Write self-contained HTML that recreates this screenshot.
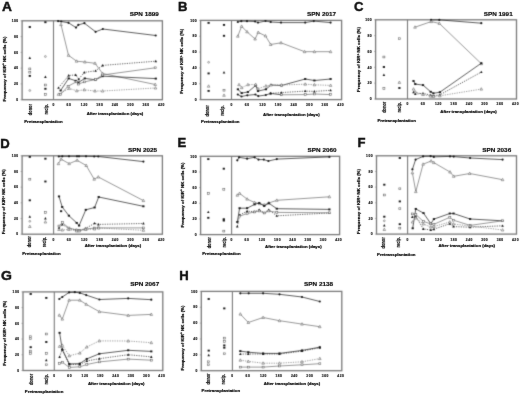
<!DOCTYPE html>
<html><head><meta charset="utf-8"><style>
html,body{margin:0;padding:0;background:#fff;}
svg{display:block;}
text{font-family:"Liberation Sans", sans-serif;fill:#111;}
.L{font-size:13.1px;font-weight:bold;stroke:#000;stroke-width:0.4px;}
.T{font-size:6.1px;font-weight:bold;stroke:#000;stroke-width:0.15px;fill:#000;}
.tk{font-size:3.3px;font-weight:bold;fill:#111;stroke:#111;stroke-width:0.15px;letter-spacing:0.5px;}
.dr{font-size:4.9px;font-weight:bold;fill:#111;stroke:#111;stroke-width:0.2px;}
.ax{font-size:4.4px;font-weight:bold;fill:#000;stroke:#000;stroke-width:0.22px;}
.yl{font-size:4.4px;font-weight:bold;fill:#000;stroke:#000;stroke-width:0.2px;}
</style></head><body>
<svg width="520" height="394" viewBox="0 0 520 394">
<defs><filter id="bl" filterUnits="userSpaceOnUse" x="-10" y="-10" width="540" height="414" color-interpolation-filters="sRGB"><feColorMatrix type="saturate" values="0"/><feConvolveMatrix order="3" kernelMatrix="0.01917 0.10012 0.01917 0.10012 0.52283 0.10012 0.01917 0.10012 0.01917" divisor="1" edgeMode="none" preserveAlpha="true"/></filter><filter id="tx" filterUnits="userSpaceOnUse" x="-10" y="-10" width="540" height="414" color-interpolation-filters="sRGB"><feColorMatrix type="saturate" values="0"/><feConvolveMatrix order="3" kernelMatrix="0.00163 0.03713 0.00163 0.03713 0.84497 0.03713 0.00163 0.03713 0.00163" divisor="1" edgeMode="none" preserveAlpha="false"/></filter></defs>
<g filter="url(#bl)">
<rect x="-10" y="-10" width="540" height="414" fill="#fff"/>
<g><rect x="22.1" y="20.8" width="140.3" height="78.9" fill="none" stroke="#7a7a7a" stroke-width="1.3"/><line x1="53.5" y1="20.8" x2="53.5" y2="99.7" stroke="#7a7a7a" stroke-width="1.1"/><line x1="20.5" y1="99.7" x2="22.1" y2="99.7" stroke="#7a7a7a" stroke-width="0.5"/><line x1="20.5" y1="83.92" x2="22.1" y2="83.92" stroke="#7a7a7a" stroke-width="0.5"/><line x1="20.5" y1="68.14" x2="22.1" y2="68.14" stroke="#7a7a7a" stroke-width="0.5"/><line x1="20.5" y1="52.36" x2="22.1" y2="52.36" stroke="#7a7a7a" stroke-width="0.5"/><line x1="20.5" y1="36.58" x2="22.1" y2="36.58" stroke="#7a7a7a" stroke-width="0.5"/><line x1="20.5" y1="20.8" x2="22.1" y2="20.8" stroke="#7a7a7a" stroke-width="0.5"/><polyline points="58.1,21.1 61.2,21.5 68.5,22.8 76,27.6 78.3,24.9 84.4,23.2 95.6,31.8 102.8,29 155.7,35.5" fill="none" stroke="#1a1a1a" stroke-width="0.7"/><circle cx="58.1" cy="21.1" r="1.1" fill="#1a1a1a"/><circle cx="61.2" cy="21.5" r="1.1" fill="#1a1a1a"/><circle cx="68.5" cy="22.8" r="1.1" fill="#1a1a1a"/><circle cx="76" cy="27.6" r="1.1" fill="#1a1a1a"/><circle cx="78.3" cy="24.9" r="1.1" fill="#1a1a1a"/><circle cx="84.4" cy="23.2" r="1.1" fill="#1a1a1a"/><circle cx="95.6" cy="31.8" r="1.1" fill="#1a1a1a"/><circle cx="102.8" cy="29" r="1.1" fill="#1a1a1a"/><circle cx="155.7" cy="35.5" r="1.1" fill="#1a1a1a"/><polyline points="61,24.6 68.5,55.3 76.6,61.2 84.9,62 95,63.3 102.6,73.5 155.2,84.5" fill="none" stroke="#777777" stroke-width="0.75"/><polygon points="61,23.2 59.7,25.6 62.3,25.6" fill="#fff" stroke="#5a5a5a" stroke-width="0.55"/><polygon points="68.5,53.9 67.2,56.3 69.8,56.3" fill="#fff" stroke="#5a5a5a" stroke-width="0.55"/><polygon points="76.6,59.8 75.3,62.2 77.9,62.2" fill="#fff" stroke="#5a5a5a" stroke-width="0.55"/><polygon points="84.9,60.6 83.6,63 86.2,63" fill="#fff" stroke="#5a5a5a" stroke-width="0.55"/><polygon points="95,61.9 93.7,64.3 96.3,64.3" fill="#fff" stroke="#5a5a5a" stroke-width="0.55"/><polygon points="102.6,72.1 101.3,74.5 103.9,74.5" fill="#fff" stroke="#5a5a5a" stroke-width="0.55"/><polygon points="155.2,83.1 153.9,85.5 156.5,85.5" fill="#fff" stroke="#5a5a5a" stroke-width="0.55"/><polyline points="58.5,87.8 68.7,75.5 75.7,74.9 78.7,79.2 84.3,72.4 95.6,70.8 102.6,65.4 155.8,61.2" fill="none" stroke="#1a1a1a" stroke-width="0.7" stroke-dasharray="1.2,1.2"/><polygon points="58.5,86.4 57.2,88.8 59.8,88.8" fill="#1a1a1a"/><polygon points="68.7,74.1 67.4,76.5 70,76.5" fill="#1a1a1a"/><polygon points="75.7,73.5 74.4,75.9 77,75.9" fill="#1a1a1a"/><polygon points="78.7,77.8 77.4,80.2 80,80.2" fill="#1a1a1a"/><polygon points="84.3,71 83,73.4 85.6,73.4" fill="#1a1a1a"/><polygon points="95.6,69.4 94.3,71.8 96.9,71.8" fill="#1a1a1a"/><polygon points="102.6,64 101.3,66.4 103.9,66.4" fill="#1a1a1a"/><polygon points="155.8,59.8 154.5,62.2 157.1,62.2" fill="#1a1a1a"/><polyline points="60.6,90.5 68.7,78.4 75.7,80.8 78.4,82.5 84.8,78.4 95.6,79.8 102.6,76.2 155.8,78.6" fill="none" stroke="#1a1a1a" stroke-width="0.7"/><rect x="59.5" y="89.56" width="2.2" height="1.87" fill="#1a1a1a"/><rect x="67.6" y="77.47" width="2.2" height="1.87" fill="#1a1a1a"/><rect x="74.6" y="79.86" width="2.2" height="1.87" fill="#1a1a1a"/><rect x="77.3" y="81.56" width="2.2" height="1.87" fill="#1a1a1a"/><rect x="83.7" y="77.47" width="2.2" height="1.87" fill="#1a1a1a"/><rect x="94.5" y="78.86" width="2.2" height="1.87" fill="#1a1a1a"/><rect x="101.5" y="75.27" width="2.2" height="1.87" fill="#1a1a1a"/><rect x="154.7" y="77.66" width="2.2" height="1.87" fill="#1a1a1a"/><polyline points="60.6,94.3 68.1,86.2 76.2,81.9 78.4,84.1 84.3,81.9 95.6,79.5 102.6,75 155.2,67.8" fill="none" stroke="#777777" stroke-width="0.75"/><rect x="59.6" y="93.4" width="2" height="1.8" fill="#fff" stroke="#5a5a5a" stroke-width="0.55"/><rect x="67.1" y="85.3" width="2" height="1.8" fill="#fff" stroke="#5a5a5a" stroke-width="0.55"/><rect x="75.2" y="81" width="2" height="1.8" fill="#fff" stroke="#5a5a5a" stroke-width="0.55"/><rect x="77.4" y="83.2" width="2" height="1.8" fill="#fff" stroke="#5a5a5a" stroke-width="0.55"/><rect x="83.3" y="81" width="2" height="1.8" fill="#fff" stroke="#5a5a5a" stroke-width="0.55"/><rect x="94.6" y="78.6" width="2" height="1.8" fill="#fff" stroke="#5a5a5a" stroke-width="0.55"/><rect x="101.6" y="74.1" width="2" height="1.8" fill="#fff" stroke="#5a5a5a" stroke-width="0.55"/><rect x="154.2" y="66.9" width="2" height="1.8" fill="#fff" stroke="#5a5a5a" stroke-width="0.55"/><polyline points="58.5,94.3 69.2,88.4 76.8,90.8 84.3,89.8 95,91 102.6,91 155.5,88" fill="none" stroke="#777777" stroke-width="0.75" stroke-dasharray="1.2,1.2"/><polygon points="58.5,92.9 57.2,95.3 59.8,95.3" fill="#fff" stroke="#5a5a5a" stroke-width="0.55"/><polygon points="69.2,87 67.9,89.4 70.5,89.4" fill="#fff" stroke="#5a5a5a" stroke-width="0.55"/><polygon points="76.8,89.4 75.5,91.8 78.1,91.8" fill="#fff" stroke="#5a5a5a" stroke-width="0.55"/><polygon points="84.3,88.4 83,90.8 85.6,90.8" fill="#fff" stroke="#5a5a5a" stroke-width="0.55"/><polygon points="95,89.6 93.7,92 96.3,92" fill="#fff" stroke="#5a5a5a" stroke-width="0.55"/><polygon points="102.6,89.6 101.3,92 103.9,92" fill="#fff" stroke="#5a5a5a" stroke-width="0.55"/><polygon points="155.5,86.6 154.2,89 156.8,89" fill="#fff" stroke="#5a5a5a" stroke-width="0.55"/><rect x="28.7" y="26.07" width="2.2" height="1.87" fill="#1a1a1a"/><polygon points="29.8,56.6 28.5,59 31.1,59" fill="#1a1a1a"/><rect x="28.8" y="68" width="2" height="1.8" fill="#fff" stroke="#5a5a5a" stroke-width="0.55"/><rect x="28.8" y="71.3" width="2" height="1.8" fill="#fff" stroke="#5a5a5a" stroke-width="0.55"/><rect x="28.7" y="74.97" width="2.2" height="1.87" fill="#1a1a1a"/><circle cx="29.8" cy="90.5" r="0.9" fill="#fff" stroke="#5a5a5a" stroke-width="0.55"/><rect x="44.3" y="21.27" width="2.2" height="1.87" fill="#1a1a1a"/><circle cx="45.4" cy="56.5" r="0.9" fill="#fff" stroke="#5a5a5a" stroke-width="0.55"/><polygon points="45.4,75.6 44.1,78 46.7,78" fill="#1a1a1a"/><rect x="44.4" y="84.1" width="2" height="1.8" fill="#fff" stroke="#5a5a5a" stroke-width="0.55"/><rect x="44.3" y="87.86" width="2.2" height="1.87" fill="#1a1a1a"/><rect x="44.4" y="93.6" width="2" height="1.8" fill="#fff" stroke="#5a5a5a" stroke-width="0.55"/></g>
<g><rect x="200.6" y="20.4" width="141" height="79.2" fill="none" stroke="#7a7a7a" stroke-width="1.3"/><line x1="231.5" y1="20.4" x2="231.5" y2="99.6" stroke="#7a7a7a" stroke-width="1.1"/><line x1="199" y1="99.6" x2="200.6" y2="99.6" stroke="#7a7a7a" stroke-width="0.5"/><line x1="199" y1="83.76" x2="200.6" y2="83.76" stroke="#7a7a7a" stroke-width="0.5"/><line x1="199" y1="67.92" x2="200.6" y2="67.92" stroke="#7a7a7a" stroke-width="0.5"/><line x1="199" y1="52.08" x2="200.6" y2="52.08" stroke="#7a7a7a" stroke-width="0.5"/><line x1="199" y1="36.24" x2="200.6" y2="36.24" stroke="#7a7a7a" stroke-width="0.5"/><line x1="199" y1="20.4" x2="200.6" y2="20.4" stroke="#7a7a7a" stroke-width="0.5"/><polyline points="237.8,22 241.3,21.2 247,21.2 255.1,21.5 258,22.6 265.5,21 270.7,22 281,22.6 305.2,22.6 313.8,21.1 330.6,22.6" fill="none" stroke="#1a1a1a" stroke-width="0.7"/><circle cx="237.8" cy="22" r="1.1" fill="#1a1a1a"/><circle cx="241.3" cy="21.2" r="1.1" fill="#1a1a1a"/><circle cx="247" cy="21.2" r="1.1" fill="#1a1a1a"/><circle cx="255.1" cy="21.5" r="1.1" fill="#1a1a1a"/><circle cx="258" cy="22.6" r="1.1" fill="#1a1a1a"/><circle cx="265.5" cy="21" r="1.1" fill="#1a1a1a"/><circle cx="270.7" cy="22" r="1.1" fill="#1a1a1a"/><circle cx="281" cy="22.6" r="1.1" fill="#1a1a1a"/><circle cx="305.2" cy="22.6" r="1.1" fill="#1a1a1a"/><circle cx="313.8" cy="21.1" r="1.1" fill="#1a1a1a"/><circle cx="330.6" cy="22.6" r="1.1" fill="#1a1a1a"/><polyline points="237.8,36.2 241.6,26.3 247,31.8 255.1,39 258.2,32.4 265.5,35.9 270.7,44.5 281,42.8 304.6,51.7 314.4,51.7 330.6,51.7" fill="none" stroke="#777777" stroke-width="0.75"/><polygon points="237.8,34.8 236.5,37.2 239.1,37.2" fill="#fff" stroke="#5a5a5a" stroke-width="0.55"/><polygon points="241.6,24.9 240.3,27.3 242.9,27.3" fill="#fff" stroke="#5a5a5a" stroke-width="0.55"/><polygon points="247,30.4 245.7,32.8 248.3,32.8" fill="#fff" stroke="#5a5a5a" stroke-width="0.55"/><polygon points="255.1,37.6 253.8,40 256.4,40" fill="#fff" stroke="#5a5a5a" stroke-width="0.55"/><polygon points="258.2,31 256.9,33.4 259.5,33.4" fill="#fff" stroke="#5a5a5a" stroke-width="0.55"/><polygon points="265.5,34.5 264.2,36.9 266.8,36.9" fill="#fff" stroke="#5a5a5a" stroke-width="0.55"/><polygon points="270.7,43.1 269.4,45.5 272,45.5" fill="#fff" stroke="#5a5a5a" stroke-width="0.55"/><polygon points="281,41.4 279.7,43.8 282.3,43.8" fill="#fff" stroke="#5a5a5a" stroke-width="0.55"/><polygon points="304.6,50.3 303.3,52.7 305.9,52.7" fill="#fff" stroke="#5a5a5a" stroke-width="0.55"/><polygon points="314.4,50.3 313.1,52.7 315.7,52.7" fill="#fff" stroke="#5a5a5a" stroke-width="0.55"/><polygon points="330.6,50.3 329.3,52.7 331.9,52.7" fill="#fff" stroke="#5a5a5a" stroke-width="0.55"/><polyline points="237.9,89.3 241.7,93.1 247.9,92 255.7,85.5 258,91.1 265.9,89.3 271,85 281.5,85.5 305.2,79 314.4,80.5 330.6,79" fill="none" stroke="#1a1a1a" stroke-width="0.7"/><rect x="236.8" y="88.36" width="2.2" height="1.87" fill="#1a1a1a"/><rect x="240.6" y="92.16" width="2.2" height="1.87" fill="#1a1a1a"/><rect x="246.8" y="91.06" width="2.2" height="1.87" fill="#1a1a1a"/><rect x="254.6" y="84.56" width="2.2" height="1.87" fill="#1a1a1a"/><rect x="256.9" y="90.16" width="2.2" height="1.87" fill="#1a1a1a"/><rect x="264.8" y="88.36" width="2.2" height="1.87" fill="#1a1a1a"/><rect x="269.9" y="84.06" width="2.2" height="1.87" fill="#1a1a1a"/><rect x="280.4" y="84.56" width="2.2" height="1.87" fill="#1a1a1a"/><rect x="304.1" y="78.06" width="2.2" height="1.87" fill="#1a1a1a"/><rect x="313.3" y="79.56" width="2.2" height="1.87" fill="#1a1a1a"/><rect x="329.5" y="78.06" width="2.2" height="1.87" fill="#1a1a1a"/><polyline points="239,84.7 241.7,87.7 247.9,84.7 255.7,84.5 258,88.8 265.9,86 271,85 281.5,85 305.2,84.2 314.4,84.8 330.6,85.4" fill="none" stroke="#777777" stroke-width="0.75" stroke-dasharray="1.2,1.2"/><polygon points="239,83.3 237.7,85.7 240.3,85.7" fill="#fff" stroke="#5a5a5a" stroke-width="0.55"/><polygon points="241.7,86.3 240.4,88.7 243,88.7" fill="#fff" stroke="#5a5a5a" stroke-width="0.55"/><polygon points="247.9,83.3 246.6,85.7 249.2,85.7" fill="#fff" stroke="#5a5a5a" stroke-width="0.55"/><polygon points="255.7,83.1 254.4,85.5 257,85.5" fill="#fff" stroke="#5a5a5a" stroke-width="0.55"/><polygon points="258,87.4 256.7,89.8 259.3,89.8" fill="#fff" stroke="#5a5a5a" stroke-width="0.55"/><polygon points="265.9,84.6 264.6,87 267.2,87" fill="#fff" stroke="#5a5a5a" stroke-width="0.55"/><polygon points="271,83.6 269.7,86 272.3,86" fill="#fff" stroke="#5a5a5a" stroke-width="0.55"/><polygon points="281.5,83.6 280.2,86 282.8,86" fill="#fff" stroke="#5a5a5a" stroke-width="0.55"/><polygon points="305.2,82.8 303.9,85.2 306.5,85.2" fill="#fff" stroke="#5a5a5a" stroke-width="0.55"/><polygon points="314.4,83.4 313.1,85.8 315.7,85.8" fill="#fff" stroke="#5a5a5a" stroke-width="0.55"/><polygon points="330.6,84 329.3,86.4 331.9,86.4" fill="#fff" stroke="#5a5a5a" stroke-width="0.55"/><polyline points="237.8,94.5 241.5,96.5 247.3,95.3 255.4,94.5 258.3,96.1 265.8,95 270.6,93.4 281.3,94.8" fill="none" stroke="#1a1a1a" stroke-width="0.7"/><circle cx="237.8" cy="94.5" r="1.1" fill="#1a1a1a"/><circle cx="241.5" cy="96.5" r="1.1" fill="#1a1a1a"/><circle cx="247.3" cy="95.3" r="1.1" fill="#1a1a1a"/><circle cx="255.4" cy="94.5" r="1.1" fill="#1a1a1a"/><circle cx="258.3" cy="96.1" r="1.1" fill="#1a1a1a"/><circle cx="265.8" cy="95" r="1.1" fill="#1a1a1a"/><circle cx="270.6" cy="93.4" r="1.1" fill="#1a1a1a"/><circle cx="281.3" cy="94.8" r="1.1" fill="#1a1a1a"/><polyline points="281.3,94.8 305.2,94.6 314.4,94 330.6,94.6" fill="none" stroke="#777777" stroke-width="0.75"/><rect x="280.3" y="93.9" width="2" height="1.8" fill="#fff" stroke="#5a5a5a" stroke-width="0.55"/><rect x="304.2" y="93.7" width="2" height="1.8" fill="#fff" stroke="#5a5a5a" stroke-width="0.55"/><rect x="313.4" y="93.1" width="2" height="1.8" fill="#fff" stroke="#5a5a5a" stroke-width="0.55"/><rect x="329.6" y="93.7" width="2" height="1.8" fill="#fff" stroke="#5a5a5a" stroke-width="0.55"/><polyline points="270.6,93.4 281.3,92.6 305.2,91.1 314.4,91.4 330.6,90.3" fill="none" stroke="#1a1a1a" stroke-width="0.7" stroke-dasharray="1.2,1.2"/><polygon points="270.6,92 269.3,94.4 271.9,94.4" fill="#1a1a1a"/><polygon points="281.3,91.2 280,93.6 282.6,93.6" fill="#1a1a1a"/><polygon points="305.2,89.7 303.9,92.1 306.5,92.1" fill="#1a1a1a"/><polygon points="314.4,90 313.1,92.4 315.7,92.4" fill="#1a1a1a"/><polygon points="330.6,88.9 329.3,91.3 331.9,91.3" fill="#1a1a1a"/><rect x="207.5" y="21.96" width="2.2" height="1.87" fill="#1a1a1a"/><circle cx="208.6" cy="62.3" r="0.9" fill="#fff" stroke="#5a5a5a" stroke-width="0.55"/><rect x="207.5" y="72.47" width="2.2" height="1.87" fill="#1a1a1a"/><polygon points="208.6,84.8 207.3,87.2 209.9,87.2" fill="#fff" stroke="#5a5a5a" stroke-width="0.55"/><rect x="207.5" y="89.97" width="2.2" height="1.87" fill="#1a1a1a"/><rect x="222.9" y="23.96" width="2.2" height="1.87" fill="#1a1a1a"/><rect x="222.9" y="34.86" width="2.2" height="1.87" fill="#1a1a1a"/><polygon points="224,71 222.7,73.4 225.3,73.4" fill="#1a1a1a"/><rect x="223" y="89.3" width="2" height="1.8" fill="#fff" stroke="#5a5a5a" stroke-width="0.55"/><polygon points="224,93.9 222.7,96.3 225.3,96.3" fill="#fff" stroke="#5a5a5a" stroke-width="0.55"/></g>
<g><rect x="375.6" y="19.8" width="140.9" height="79.2" fill="none" stroke="#7a7a7a" stroke-width="1.3"/><line x1="407.5" y1="19.8" x2="407.5" y2="99" stroke="#7a7a7a" stroke-width="1.1"/><line x1="374" y1="99" x2="375.6" y2="99" stroke="#7a7a7a" stroke-width="0.5"/><line x1="374" y1="83.16" x2="375.6" y2="83.16" stroke="#7a7a7a" stroke-width="0.5"/><line x1="374" y1="67.32" x2="375.6" y2="67.32" stroke="#7a7a7a" stroke-width="0.5"/><line x1="374" y1="51.48" x2="375.6" y2="51.48" stroke="#7a7a7a" stroke-width="0.5"/><line x1="374" y1="35.64" x2="375.6" y2="35.64" stroke="#7a7a7a" stroke-width="0.5"/><line x1="374" y1="19.8" x2="375.6" y2="19.8" stroke="#7a7a7a" stroke-width="0.5"/><polyline points="431.1,19.9 439.3,19.9 481.3,23.2" fill="none" stroke="#1a1a1a" stroke-width="0.7"/><circle cx="431.1" cy="19.9" r="1.1" fill="#1a1a1a"/><circle cx="439.3" cy="19.9" r="1.1" fill="#1a1a1a"/><circle cx="481.3" cy="23.2" r="1.1" fill="#1a1a1a"/><polyline points="415,27.2 431.1,21.6 439.3,23.4 481.3,63.7" fill="none" stroke="#777777" stroke-width="0.75"/><polygon points="415,25.8 413.7,28.2 416.3,28.2" fill="#fff" stroke="#5a5a5a" stroke-width="0.55"/><polygon points="431.1,20.2 429.8,22.6 432.4,22.6" fill="#fff" stroke="#5a5a5a" stroke-width="0.55"/><polygon points="439.3,22 438,24.4 440.6,24.4" fill="#fff" stroke="#5a5a5a" stroke-width="0.55"/><polygon points="481.3,62.3 480,64.7 482.6,64.7" fill="#fff" stroke="#5a5a5a" stroke-width="0.55"/><polyline points="413.5,81 415.3,84.1 423,85.1 430.7,91.8 433.4,93.3 439.9,92.2 481.3,63.2" fill="none" stroke="#1a1a1a" stroke-width="0.7"/><rect x="412.4" y="80.06" width="2.2" height="1.87" fill="#1a1a1a"/><rect x="414.2" y="83.16" width="2.2" height="1.87" fill="#1a1a1a"/><rect x="421.9" y="84.16" width="2.2" height="1.87" fill="#1a1a1a"/><rect x="429.6" y="90.86" width="2.2" height="1.87" fill="#1a1a1a"/><rect x="432.3" y="92.36" width="2.2" height="1.87" fill="#1a1a1a"/><rect x="438.8" y="91.27" width="2.2" height="1.87" fill="#1a1a1a"/><rect x="480.2" y="62.27" width="2.2" height="1.87" fill="#1a1a1a"/><polyline points="413.5,92.2 415.3,94.1 423,93.3 430.7,95.2 433.4,95.8 439.9,94.8 481.3,72.1" fill="none" stroke="#1a1a1a" stroke-width="0.7" stroke-dasharray="1.2,1.2"/><polygon points="413.5,90.8 412.2,93.2 414.8,93.2" fill="#1a1a1a"/><polygon points="415.3,92.7 414,95.1 416.6,95.1" fill="#1a1a1a"/><polygon points="423,91.9 421.7,94.3 424.3,94.3" fill="#1a1a1a"/><polygon points="430.7,93.8 429.4,96.2 432,96.2" fill="#1a1a1a"/><polygon points="433.4,94.4 432.1,96.8 434.7,96.8" fill="#1a1a1a"/><polygon points="439.9,93.4 438.6,95.8 441.2,95.8" fill="#1a1a1a"/><polygon points="481.3,70.7 480,73.1 482.6,73.1" fill="#1a1a1a"/><polyline points="413.5,89.1 415.3,92 423,94.5 430.7,96.2 433.4,96.5 439.9,95.8 481.3,89.1" fill="none" stroke="#777777" stroke-width="0.75" stroke-dasharray="1.2,1.2"/><polygon points="413.5,87.7 412.2,90.1 414.8,90.1" fill="#fff" stroke="#5a5a5a" stroke-width="0.55"/><polygon points="415.3,90.6 414,93 416.6,93" fill="#fff" stroke="#5a5a5a" stroke-width="0.55"/><polygon points="423,93.1 421.7,95.5 424.3,95.5" fill="#fff" stroke="#5a5a5a" stroke-width="0.55"/><polygon points="430.7,94.8 429.4,97.2 432,97.2" fill="#fff" stroke="#5a5a5a" stroke-width="0.55"/><polygon points="433.4,95.1 432.1,97.5 434.7,97.5" fill="#fff" stroke="#5a5a5a" stroke-width="0.55"/><polygon points="439.9,94.4 438.6,96.8 441.2,96.8" fill="#fff" stroke="#5a5a5a" stroke-width="0.55"/><polygon points="481.3,87.7 480,90.1 482.6,90.1" fill="#fff" stroke="#5a5a5a" stroke-width="0.55"/><rect x="382.9" y="56.1" width="2" height="1.8" fill="#fff" stroke="#5a5a5a" stroke-width="0.55"/><rect x="382.8" y="66.06" width="2.2" height="1.87" fill="#1a1a1a"/><polygon points="383.9,73.5 382.6,75.9 385.2,75.9" fill="#1a1a1a"/><rect x="382.9" y="87.5" width="2" height="1.8" fill="#fff" stroke="#5a5a5a" stroke-width="0.55"/><rect x="398.4" y="37.8" width="2" height="1.8" fill="#fff" stroke="#5a5a5a" stroke-width="0.55"/><polygon points="399.4,81 398.1,83.4 400.7,83.4" fill="#fff" stroke="#5a5a5a" stroke-width="0.55"/><rect x="398.3" y="87.06" width="2.2" height="1.87" fill="#1a1a1a"/></g>
<g><rect x="22.1" y="155.8" width="140.3" height="78.4" fill="none" stroke="#7a7a7a" stroke-width="1.3"/><line x1="53.6" y1="155.8" x2="53.6" y2="234.2" stroke="#7a7a7a" stroke-width="1.1"/><line x1="20.5" y1="234.2" x2="22.1" y2="234.2" stroke="#7a7a7a" stroke-width="0.5"/><line x1="20.5" y1="218.52" x2="22.1" y2="218.52" stroke="#7a7a7a" stroke-width="0.5"/><line x1="20.5" y1="202.84" x2="22.1" y2="202.84" stroke="#7a7a7a" stroke-width="0.5"/><line x1="20.5" y1="187.16" x2="22.1" y2="187.16" stroke="#7a7a7a" stroke-width="0.5"/><line x1="20.5" y1="171.48" x2="22.1" y2="171.48" stroke="#7a7a7a" stroke-width="0.5"/><line x1="20.5" y1="155.8" x2="22.1" y2="155.8" stroke="#7a7a7a" stroke-width="0.5"/><polyline points="58.8,156.5 62.3,156.3 69,156.3 77,156.3 79,156.3 86,156.3 94.2,156.5 98.3,156.5 143.4,161.6" fill="none" stroke="#1a1a1a" stroke-width="0.7"/><circle cx="58.8" cy="156.5" r="1.1" fill="#1a1a1a"/><circle cx="62.3" cy="156.3" r="1.1" fill="#1a1a1a"/><circle cx="69" cy="156.3" r="1.1" fill="#1a1a1a"/><circle cx="77" cy="156.3" r="1.1" fill="#1a1a1a"/><circle cx="79" cy="156.3" r="1.1" fill="#1a1a1a"/><circle cx="86" cy="156.3" r="1.1" fill="#1a1a1a"/><circle cx="94.2" cy="156.5" r="1.1" fill="#1a1a1a"/><circle cx="98.3" cy="156.5" r="1.1" fill="#1a1a1a"/><circle cx="143.4" cy="161.6" r="1.1" fill="#1a1a1a"/><polyline points="58.4,163.7 61.1,159.1 69.1,163.7 77.1,160.3 86.2,165.5 94.2,179.2 98.3,177 143.4,200.6" fill="none" stroke="#777777" stroke-width="0.75"/><polygon points="58.4,162.3 57.1,164.7 59.7,164.7" fill="#fff" stroke="#5a5a5a" stroke-width="0.55"/><polygon points="61.1,157.7 59.8,160.1 62.4,160.1" fill="#fff" stroke="#5a5a5a" stroke-width="0.55"/><polygon points="69.1,162.3 67.8,164.7 70.4,164.7" fill="#fff" stroke="#5a5a5a" stroke-width="0.55"/><polygon points="77.1,158.9 75.8,161.3 78.4,161.3" fill="#fff" stroke="#5a5a5a" stroke-width="0.55"/><polygon points="86.2,164.1 84.9,166.5 87.5,166.5" fill="#fff" stroke="#5a5a5a" stroke-width="0.55"/><polygon points="94.2,177.8 92.9,180.2 95.5,180.2" fill="#fff" stroke="#5a5a5a" stroke-width="0.55"/><polygon points="98.3,175.6 97,178 99.6,178" fill="#fff" stroke="#5a5a5a" stroke-width="0.55"/><polygon points="143.4,199.2 142.1,201.6 144.7,201.6" fill="#fff" stroke="#5a5a5a" stroke-width="0.55"/><polyline points="61.1,211.2" fill="none" stroke="#1a1a1a" stroke-width="0.7"/><rect x="60" y="210.26" width="2.2" height="1.87" fill="#1a1a1a"/><polyline points="59,196.4 62.2,207 68.9,215.7 76.7,222.9 79.1,225.6 85.8,209.8 94.6,207.5 98.7,197 143.4,206.3" fill="none" stroke="#1a1a1a" stroke-width="0.7"/><rect x="57.9" y="195.47" width="2.2" height="1.87" fill="#1a1a1a"/><rect x="61.1" y="206.06" width="2.2" height="1.87" fill="#1a1a1a"/><rect x="67.8" y="214.76" width="2.2" height="1.87" fill="#1a1a1a"/><rect x="75.6" y="221.97" width="2.2" height="1.87" fill="#1a1a1a"/><rect x="78" y="224.66" width="2.2" height="1.87" fill="#1a1a1a"/><rect x="84.7" y="208.87" width="2.2" height="1.87" fill="#1a1a1a"/><rect x="93.5" y="206.56" width="2.2" height="1.87" fill="#1a1a1a"/><rect x="97.6" y="196.06" width="2.2" height="1.87" fill="#1a1a1a"/><rect x="142.3" y="205.37" width="2.2" height="1.87" fill="#1a1a1a"/><polyline points="59,227.9 62.3,224.4 68.9,228.5 76.7,230 79.1,230.5 85.8,228.3 94.6,223.3 98.4,224.4 143.4,223.5" fill="none" stroke="#1a1a1a" stroke-width="0.7" stroke-dasharray="1.2,1.2"/><polygon points="59,226.5 57.7,228.9 60.3,228.9" fill="#1a1a1a"/><polygon points="62.3,223 61,225.4 63.6,225.4" fill="#1a1a1a"/><polygon points="68.9,227.1 67.6,229.5 70.2,229.5" fill="#1a1a1a"/><polygon points="76.7,228.6 75.4,231 78,231" fill="#1a1a1a"/><polygon points="79.1,229.1 77.8,231.5 80.4,231.5" fill="#1a1a1a"/><polygon points="85.8,226.9 84.5,229.3 87.1,229.3" fill="#1a1a1a"/><polygon points="94.6,221.9 93.3,224.3 95.9,224.3" fill="#1a1a1a"/><polygon points="98.4,223 97.1,225.4 99.7,225.4" fill="#1a1a1a"/><polygon points="143.4,222.1 142.1,224.5 144.7,224.5" fill="#1a1a1a"/><polyline points="59,226 62.3,222.6 68.9,228 76.7,230 79.1,230.5 85.8,229 94.6,228 98.7,227.9 143.4,227.9" fill="none" stroke="#777777" stroke-width="0.75"/><rect x="58" y="225.1" width="2" height="1.8" fill="#fff" stroke="#5a5a5a" stroke-width="0.55"/><rect x="61.3" y="221.7" width="2" height="1.8" fill="#fff" stroke="#5a5a5a" stroke-width="0.55"/><rect x="67.9" y="227.1" width="2" height="1.8" fill="#fff" stroke="#5a5a5a" stroke-width="0.55"/><rect x="75.7" y="229.1" width="2" height="1.8" fill="#fff" stroke="#5a5a5a" stroke-width="0.55"/><rect x="78.1" y="229.6" width="2" height="1.8" fill="#fff" stroke="#5a5a5a" stroke-width="0.55"/><rect x="84.8" y="228.1" width="2" height="1.8" fill="#fff" stroke="#5a5a5a" stroke-width="0.55"/><rect x="93.6" y="227.1" width="2" height="1.8" fill="#fff" stroke="#5a5a5a" stroke-width="0.55"/><rect x="97.7" y="227" width="2" height="1.8" fill="#fff" stroke="#5a5a5a" stroke-width="0.55"/><rect x="142.4" y="227" width="2" height="1.8" fill="#fff" stroke="#5a5a5a" stroke-width="0.55"/><polyline points="59,229.5 62.3,230 68.9,229.5 76.7,231 79.1,231 85.8,229.5 94.6,229 98.7,228 143.4,230.3" fill="none" stroke="#777777" stroke-width="0.75" stroke-dasharray="1.2,1.2"/><polygon points="59,228.1 57.7,230.5 60.3,230.5" fill="#fff" stroke="#5a5a5a" stroke-width="0.55"/><polygon points="62.3,228.6 61,231 63.6,231" fill="#fff" stroke="#5a5a5a" stroke-width="0.55"/><polygon points="68.9,228.1 67.6,230.5 70.2,230.5" fill="#fff" stroke="#5a5a5a" stroke-width="0.55"/><polygon points="76.7,229.6 75.4,232 78,232" fill="#fff" stroke="#5a5a5a" stroke-width="0.55"/><polygon points="79.1,229.6 77.8,232 80.4,232" fill="#fff" stroke="#5a5a5a" stroke-width="0.55"/><polygon points="85.8,228.1 84.5,230.5 87.1,230.5" fill="#fff" stroke="#5a5a5a" stroke-width="0.55"/><polygon points="94.6,227.6 93.3,230 95.9,230" fill="#fff" stroke="#5a5a5a" stroke-width="0.55"/><polygon points="98.7,226.6 97.4,229 100,229" fill="#fff" stroke="#5a5a5a" stroke-width="0.55"/><polygon points="143.4,228.9 142.1,231.3 144.7,231.3" fill="#fff" stroke="#5a5a5a" stroke-width="0.55"/><rect x="28.7" y="155.97" width="2.2" height="1.87" fill="#1a1a1a"/><rect x="28.8" y="178.3" width="2" height="1.8" fill="#fff" stroke="#5a5a5a" stroke-width="0.55"/><rect x="28.7" y="199.37" width="2.2" height="1.87" fill="#1a1a1a"/><polygon points="29.8,215.3 28.5,217.7 31.1,217.7" fill="#1a1a1a"/><circle cx="29.8" cy="221.3" r="0.9" fill="#fff" stroke="#5a5a5a" stroke-width="0.55"/><polygon points="29.8,225.1 28.5,227.5 31.1,227.5" fill="#fff" stroke="#5a5a5a" stroke-width="0.55"/><rect x="44.3" y="157.76" width="2.2" height="1.87" fill="#1a1a1a"/><rect x="44.3" y="180.56" width="2.2" height="1.87" fill="#1a1a1a"/><rect x="44.4" y="211.5" width="2" height="1.8" fill="#fff" stroke="#5a5a5a" stroke-width="0.55"/><polygon points="45.4,217.1 44.1,219.5 46.7,219.5" fill="#1a1a1a"/><polygon points="45.4,220.6 44.1,223 46.7,223" fill="#fff" stroke="#5a5a5a" stroke-width="0.55"/></g>
<g><rect x="200.6" y="156.3" width="139" height="78.3" fill="none" stroke="#7a7a7a" stroke-width="1.3"/><line x1="231.6" y1="156.3" x2="231.6" y2="234.6" stroke="#7a7a7a" stroke-width="1.1"/><line x1="199" y1="234.6" x2="200.6" y2="234.6" stroke="#7a7a7a" stroke-width="0.5"/><line x1="199" y1="218.94" x2="200.6" y2="218.94" stroke="#7a7a7a" stroke-width="0.5"/><line x1="199" y1="203.28" x2="200.6" y2="203.28" stroke="#7a7a7a" stroke-width="0.5"/><line x1="199" y1="187.62" x2="200.6" y2="187.62" stroke="#7a7a7a" stroke-width="0.5"/><line x1="199" y1="171.96" x2="200.6" y2="171.96" stroke="#7a7a7a" stroke-width="0.5"/><line x1="199" y1="156.3" x2="200.6" y2="156.3" stroke="#7a7a7a" stroke-width="0.5"/><polyline points="237.3,160.3 239.1,157.3 247.1,158.7 254.6,157.3 258.5,159.6 263.8,159.6 268.4,161 276.8,159.1 329.4,156.9" fill="none" stroke="#1a1a1a" stroke-width="0.7"/><circle cx="237.3" cy="160.3" r="1.1" fill="#1a1a1a"/><circle cx="239.1" cy="157.3" r="1.1" fill="#1a1a1a"/><circle cx="247.1" cy="158.7" r="1.1" fill="#1a1a1a"/><circle cx="254.6" cy="157.3" r="1.1" fill="#1a1a1a"/><circle cx="258.5" cy="159.6" r="1.1" fill="#1a1a1a"/><circle cx="263.8" cy="159.6" r="1.1" fill="#1a1a1a"/><circle cx="268.4" cy="161" r="1.1" fill="#1a1a1a"/><circle cx="276.8" cy="159.1" r="1.1" fill="#1a1a1a"/><circle cx="329.4" cy="156.9" r="1.1" fill="#1a1a1a"/><polyline points="237.3,195.2 239.6,193.4 247.1,199.1 254.6,202.5 259.7,203.7 264.2,204.8 268.8,203 276.8,200.3 329.4,196.8" fill="none" stroke="#777777" stroke-width="0.75"/><polygon points="237.3,193.8 236,196.2 238.6,196.2" fill="#fff" stroke="#5a5a5a" stroke-width="0.55"/><polygon points="239.6,192 238.3,194.4 240.9,194.4" fill="#fff" stroke="#5a5a5a" stroke-width="0.55"/><polygon points="247.1,197.7 245.8,200.1 248.4,200.1" fill="#fff" stroke="#5a5a5a" stroke-width="0.55"/><polygon points="254.6,201.1 253.3,203.5 255.9,203.5" fill="#fff" stroke="#5a5a5a" stroke-width="0.55"/><polygon points="259.7,202.3 258.4,204.7 261,204.7" fill="#fff" stroke="#5a5a5a" stroke-width="0.55"/><polygon points="264.2,203.4 262.9,205.8 265.5,205.8" fill="#fff" stroke="#5a5a5a" stroke-width="0.55"/><polygon points="268.8,201.6 267.5,204 270.1,204" fill="#fff" stroke="#5a5a5a" stroke-width="0.55"/><polygon points="276.8,198.9 275.5,201.3 278.1,201.3" fill="#fff" stroke="#5a5a5a" stroke-width="0.55"/><polygon points="329.4,195.4 328.1,197.8 330.7,197.8" fill="#fff" stroke="#5a5a5a" stroke-width="0.55"/><polyline points="237.3,222 239.6,208.2 247.1,208.2 254.6,204.4 259.2,203 264.2,206 268.8,203.2 276.8,208.7 329.4,209.4" fill="none" stroke="#1a1a1a" stroke-width="0.7"/><rect x="236.2" y="221.06" width="2.2" height="1.87" fill="#1a1a1a"/><rect x="238.5" y="207.26" width="2.2" height="1.87" fill="#1a1a1a"/><rect x="246" y="207.26" width="2.2" height="1.87" fill="#1a1a1a"/><rect x="253.5" y="203.47" width="2.2" height="1.87" fill="#1a1a1a"/><rect x="258.1" y="202.06" width="2.2" height="1.87" fill="#1a1a1a"/><rect x="263.1" y="205.06" width="2.2" height="1.87" fill="#1a1a1a"/><rect x="267.7" y="202.26" width="2.2" height="1.87" fill="#1a1a1a"/><rect x="275.7" y="207.76" width="2.2" height="1.87" fill="#1a1a1a"/><rect x="328.3" y="208.47" width="2.2" height="1.87" fill="#1a1a1a"/><polyline points="237.3,226.5 239.6,215.1 247.1,211.2 254.6,211.7 259.2,209.8 264.2,212.8 268.8,209.8 276.8,215.8 329.4,213" fill="none" stroke="#1a1a1a" stroke-width="0.7" stroke-dasharray="1.2,1.2"/><polygon points="237.3,225.1 236,227.5 238.6,227.5" fill="#1a1a1a"/><polygon points="239.6,213.7 238.3,216.1 240.9,216.1" fill="#1a1a1a"/><polygon points="247.1,209.8 245.8,212.2 248.4,212.2" fill="#1a1a1a"/><polygon points="254.6,210.3 253.3,212.7 255.9,212.7" fill="#1a1a1a"/><polygon points="259.2,208.4 257.9,210.8 260.5,210.8" fill="#1a1a1a"/><polygon points="264.2,211.4 262.9,213.8 265.5,213.8" fill="#1a1a1a"/><polygon points="268.8,208.4 267.5,210.8 270.1,210.8" fill="#1a1a1a"/><polygon points="276.8,214.4 275.5,216.8 278.1,216.8" fill="#1a1a1a"/><polygon points="329.4,211.6 328.1,214 330.7,214" fill="#1a1a1a"/><polyline points="239.6,216.2 247.1,213.5 254.6,212 259.2,211 264.2,213 268.8,211 276.8,212.4 329.4,212.8" fill="none" stroke="#777777" stroke-width="0.75"/><rect x="238.6" y="215.3" width="2" height="1.8" fill="#fff" stroke="#5a5a5a" stroke-width="0.55"/><rect x="246.1" y="212.6" width="2" height="1.8" fill="#fff" stroke="#5a5a5a" stroke-width="0.55"/><rect x="253.6" y="211.1" width="2" height="1.8" fill="#fff" stroke="#5a5a5a" stroke-width="0.55"/><rect x="258.2" y="210.1" width="2" height="1.8" fill="#fff" stroke="#5a5a5a" stroke-width="0.55"/><rect x="263.2" y="212.1" width="2" height="1.8" fill="#fff" stroke="#5a5a5a" stroke-width="0.55"/><rect x="267.8" y="210.1" width="2" height="1.8" fill="#fff" stroke="#5a5a5a" stroke-width="0.55"/><rect x="275.8" y="211.5" width="2" height="1.8" fill="#fff" stroke="#5a5a5a" stroke-width="0.55"/><rect x="328.4" y="211.9" width="2" height="1.8" fill="#fff" stroke="#5a5a5a" stroke-width="0.55"/><rect x="207.2" y="158.16" width="2.2" height="1.87" fill="#1a1a1a"/><rect x="207.3" y="192.5" width="2" height="1.8" fill="#fff" stroke="#5a5a5a" stroke-width="0.55"/><polygon points="208.3,210.7 207,213.1 209.6,213.1" fill="#1a1a1a"/><rect x="207.2" y="216.87" width="2.2" height="1.87" fill="#1a1a1a"/><rect x="222.7" y="167.76" width="2.2" height="1.87" fill="#1a1a1a"/><rect x="222.8" y="188.4" width="2" height="1.8" fill="#fff" stroke="#5a5a5a" stroke-width="0.55"/><rect x="222.7" y="218.26" width="2.2" height="1.87" fill="#1a1a1a"/><rect x="222.7" y="219.66" width="2.2" height="1.87" fill="#1a1a1a"/><rect x="222.8" y="230.2" width="2" height="1.8" fill="#fff" stroke="#5a5a5a" stroke-width="0.55"/></g>
<g><rect x="376.5" y="155.8" width="140" height="78.3" fill="none" stroke="#7a7a7a" stroke-width="1.3"/><line x1="407.6" y1="155.8" x2="407.6" y2="234.1" stroke="#7a7a7a" stroke-width="1.1"/><line x1="374.9" y1="234.1" x2="376.5" y2="234.1" stroke="#7a7a7a" stroke-width="0.5"/><line x1="374.9" y1="218.44" x2="376.5" y2="218.44" stroke="#7a7a7a" stroke-width="0.5"/><line x1="374.9" y1="202.78" x2="376.5" y2="202.78" stroke="#7a7a7a" stroke-width="0.5"/><line x1="374.9" y1="187.12" x2="376.5" y2="187.12" stroke="#7a7a7a" stroke-width="0.5"/><line x1="374.9" y1="171.46" x2="376.5" y2="171.46" stroke="#7a7a7a" stroke-width="0.5"/><line x1="374.9" y1="155.8" x2="376.5" y2="155.8" stroke="#7a7a7a" stroke-width="0.5"/><polyline points="412.4,169.4 415.6,159.6 423.1,156.4 430.6,156.2 433.8,156.9 450,156.4 453.7,156.6 470.1,158 502.6,159.6" fill="none" stroke="#1a1a1a" stroke-width="0.7"/><circle cx="412.4" cy="169.4" r="1.1" fill="#1a1a1a"/><circle cx="415.6" cy="159.6" r="1.1" fill="#1a1a1a"/><circle cx="423.1" cy="156.4" r="1.1" fill="#1a1a1a"/><circle cx="430.6" cy="156.2" r="1.1" fill="#1a1a1a"/><circle cx="433.8" cy="156.9" r="1.1" fill="#1a1a1a"/><circle cx="450" cy="156.4" r="1.1" fill="#1a1a1a"/><circle cx="453.7" cy="156.6" r="1.1" fill="#1a1a1a"/><circle cx="470.1" cy="158" r="1.1" fill="#1a1a1a"/><circle cx="502.6" cy="159.6" r="1.1" fill="#1a1a1a"/><polyline points="412.4,172.8 415.8,191.6 423.1,164.2 431.1,161 433.8,162.6 450,172 453.7,176.3 469.7,173.5 502.6,179.7" fill="none" stroke="#777777" stroke-width="0.75"/><polygon points="412.4,171.4 411.1,173.8 413.7,173.8" fill="#fff" stroke="#5a5a5a" stroke-width="0.55"/><polygon points="415.8,190.2 414.5,192.6 417.1,192.6" fill="#fff" stroke="#5a5a5a" stroke-width="0.55"/><polygon points="423.1,162.8 421.8,165.2 424.4,165.2" fill="#fff" stroke="#5a5a5a" stroke-width="0.55"/><polygon points="431.1,159.6 429.8,162 432.4,162" fill="#fff" stroke="#5a5a5a" stroke-width="0.55"/><polygon points="433.8,161.2 432.5,163.6 435.1,163.6" fill="#fff" stroke="#5a5a5a" stroke-width="0.55"/><polygon points="450,170.6 448.7,173 451.3,173" fill="#fff" stroke="#5a5a5a" stroke-width="0.55"/><polygon points="453.7,174.9 452.4,177.3 455,177.3" fill="#fff" stroke="#5a5a5a" stroke-width="0.55"/><polygon points="469.7,172.1 468.4,174.5 471,174.5" fill="#fff" stroke="#5a5a5a" stroke-width="0.55"/><polygon points="502.6,178.3 501.3,180.7 503.9,180.7" fill="#fff" stroke="#5a5a5a" stroke-width="0.55"/><polyline points="412.7,228.3 415.8,208.9 423.5,213.1 430.8,223.7 433.9,219.1 449.8,213.5 453.5,213.5 470.1,219 502.6,220.8" fill="none" stroke="#1a1a1a" stroke-width="0.7"/><rect x="411.6" y="227.37" width="2.2" height="1.87" fill="#1a1a1a"/><rect x="414.7" y="207.97" width="2.2" height="1.87" fill="#1a1a1a"/><rect x="422.4" y="212.16" width="2.2" height="1.87" fill="#1a1a1a"/><rect x="429.7" y="222.76" width="2.2" height="1.87" fill="#1a1a1a"/><rect x="432.8" y="218.16" width="2.2" height="1.87" fill="#1a1a1a"/><rect x="448.7" y="212.56" width="2.2" height="1.87" fill="#1a1a1a"/><rect x="452.4" y="212.56" width="2.2" height="1.87" fill="#1a1a1a"/><rect x="469" y="218.06" width="2.2" height="1.87" fill="#1a1a1a"/><rect x="501.5" y="219.87" width="2.2" height="1.87" fill="#1a1a1a"/><polyline points="412.3,217 415.8,216.5 423.3,228.9 430.8,230 433.9,229.2 449.8,223.7 453.5,226.6 470.1,227.2 502.6,225.8" fill="none" stroke="#1a1a1a" stroke-width="0.7" stroke-dasharray="1.2,1.2"/><polygon points="412.3,215.6 411,218 413.6,218" fill="#1a1a1a"/><polygon points="415.8,215.1 414.5,217.5 417.1,217.5" fill="#1a1a1a"/><polygon points="423.3,227.5 422,229.9 424.6,229.9" fill="#1a1a1a"/><polygon points="430.8,228.6 429.5,231 432.1,231" fill="#1a1a1a"/><polygon points="433.9,227.8 432.6,230.2 435.2,230.2" fill="#1a1a1a"/><polygon points="449.8,222.3 448.5,224.7 451.1,224.7" fill="#1a1a1a"/><polygon points="453.5,225.2 452.2,227.6 454.8,227.6" fill="#1a1a1a"/><polygon points="470.1,225.8 468.8,228.2 471.4,228.2" fill="#1a1a1a"/><polygon points="502.6,224.4 501.3,226.8 503.9,226.8" fill="#1a1a1a"/><polyline points="412.5,213.9 415.8,214.5 423.3,221.4 430.8,223.9 433.9,224.3 449.8,217.3 453.5,220.2 470.1,225.4 502.6,220.8" fill="none" stroke="#777777" stroke-width="0.75"/><rect x="411.5" y="213" width="2" height="1.8" fill="#fff" stroke="#5a5a5a" stroke-width="0.55"/><rect x="414.8" y="213.6" width="2" height="1.8" fill="#fff" stroke="#5a5a5a" stroke-width="0.55"/><rect x="422.3" y="220.5" width="2" height="1.8" fill="#fff" stroke="#5a5a5a" stroke-width="0.55"/><rect x="429.8" y="223" width="2" height="1.8" fill="#fff" stroke="#5a5a5a" stroke-width="0.55"/><rect x="432.9" y="223.4" width="2" height="1.8" fill="#fff" stroke="#5a5a5a" stroke-width="0.55"/><rect x="448.8" y="216.4" width="2" height="1.8" fill="#fff" stroke="#5a5a5a" stroke-width="0.55"/><rect x="452.5" y="219.3" width="2" height="1.8" fill="#fff" stroke="#5a5a5a" stroke-width="0.55"/><rect x="469.1" y="224.5" width="2" height="1.8" fill="#fff" stroke="#5a5a5a" stroke-width="0.55"/><rect x="501.6" y="219.9" width="2" height="1.8" fill="#fff" stroke="#5a5a5a" stroke-width="0.55"/><polyline points="412.5,222 415.8,218 423.3,224 430.8,227 433.9,226.5 449.8,222 453.5,224 470.1,226 502.6,230" fill="none" stroke="#777777" stroke-width="0.75" stroke-dasharray="1.2,1.2"/><polygon points="412.5,220.6 411.2,223 413.8,223" fill="#fff" stroke="#5a5a5a" stroke-width="0.55"/><polygon points="415.8,216.6 414.5,219 417.1,219" fill="#fff" stroke="#5a5a5a" stroke-width="0.55"/><polygon points="423.3,222.6 422,225 424.6,225" fill="#fff" stroke="#5a5a5a" stroke-width="0.55"/><polygon points="430.8,225.6 429.5,228 432.1,228" fill="#fff" stroke="#5a5a5a" stroke-width="0.55"/><polygon points="433.9,225.1 432.6,227.5 435.2,227.5" fill="#fff" stroke="#5a5a5a" stroke-width="0.55"/><polygon points="449.8,220.6 448.5,223 451.1,223" fill="#fff" stroke="#5a5a5a" stroke-width="0.55"/><polygon points="453.5,222.6 452.2,225 454.8,225" fill="#fff" stroke="#5a5a5a" stroke-width="0.55"/><polygon points="470.1,224.6 468.8,227 471.4,227" fill="#fff" stroke="#5a5a5a" stroke-width="0.55"/><polygon points="502.6,228.6 501.3,231 503.9,231" fill="#fff" stroke="#5a5a5a" stroke-width="0.55"/><rect x="383.2" y="183.76" width="2.2" height="1.87" fill="#1a1a1a"/><rect x="383.3" y="194.1" width="2" height="1.8" fill="#fff" stroke="#5a5a5a" stroke-width="0.55"/><rect x="383.2" y="215.76" width="2.2" height="1.87" fill="#1a1a1a"/><circle cx="384.3" cy="220.8" r="0.9" fill="#fff" stroke="#5a5a5a" stroke-width="0.55"/><polygon points="384.3,224 383,226.4 385.6,226.4" fill="#1a1a1a"/><polygon points="384.3,228.1 383,230.5 385.6,230.5" fill="#fff" stroke="#5a5a5a" stroke-width="0.55"/><rect x="398.7" y="157.06" width="2.2" height="1.87" fill="#1a1a1a"/><rect x="398.8" y="187.9" width="2" height="1.8" fill="#fff" stroke="#5a5a5a" stroke-width="0.55"/><rect x="398.7" y="200.47" width="2.2" height="1.87" fill="#1a1a1a"/><rect x="398.8" y="207.8" width="2" height="1.8" fill="#fff" stroke="#5a5a5a" stroke-width="0.55"/><rect x="398.7" y="223.26" width="2.2" height="1.87" fill="#1a1a1a"/><rect x="398.8" y="227.2" width="2" height="1.8" fill="#fff" stroke="#5a5a5a" stroke-width="0.55"/></g>
<g><rect x="23" y="291.9" width="139.8" height="78.6" fill="none" stroke="#7a7a7a" stroke-width="1.3"/><line x1="54.3" y1="291.9" x2="54.3" y2="370.5" stroke="#7a7a7a" stroke-width="1.1"/><line x1="21.4" y1="370.5" x2="23" y2="370.5" stroke="#7a7a7a" stroke-width="0.5"/><line x1="21.4" y1="354.78" x2="23" y2="354.78" stroke="#7a7a7a" stroke-width="0.5"/><line x1="21.4" y1="339.06" x2="23" y2="339.06" stroke="#7a7a7a" stroke-width="0.5"/><line x1="21.4" y1="323.34" x2="23" y2="323.34" stroke="#7a7a7a" stroke-width="0.5"/><line x1="21.4" y1="307.62" x2="23" y2="307.62" stroke="#7a7a7a" stroke-width="0.5"/><line x1="21.4" y1="291.9" x2="23" y2="291.9" stroke="#7a7a7a" stroke-width="0.5"/><polyline points="59.3,299 62.3,297 69.1,292.4 74.8,292.2 79.8,292.9 86.2,295.1 99.4,299.5 128.2,298.4 151.3,299.7" fill="none" stroke="#1a1a1a" stroke-width="0.7"/><circle cx="59.3" cy="299" r="1.1" fill="#1a1a1a"/><circle cx="62.3" cy="297" r="1.1" fill="#1a1a1a"/><circle cx="69.1" cy="292.4" r="1.1" fill="#1a1a1a"/><circle cx="74.8" cy="292.2" r="1.1" fill="#1a1a1a"/><circle cx="79.8" cy="292.9" r="1.1" fill="#1a1a1a"/><circle cx="86.2" cy="295.1" r="1.1" fill="#1a1a1a"/><circle cx="99.4" cy="299.5" r="1.1" fill="#1a1a1a"/><circle cx="128.2" cy="298.4" r="1.1" fill="#1a1a1a"/><circle cx="151.3" cy="299.7" r="1.1" fill="#1a1a1a"/><polyline points="59.3,315.2 62.3,319.1 69.1,300.2 79.8,300.2 86.2,304.3 99.4,311.7 128.2,315.4 151.3,314.4" fill="none" stroke="#777777" stroke-width="0.75"/><polygon points="59.3,313.8 58,316.2 60.6,316.2" fill="#fff" stroke="#5a5a5a" stroke-width="0.55"/><polygon points="62.3,317.7 61,320.1 63.6,320.1" fill="#fff" stroke="#5a5a5a" stroke-width="0.55"/><polygon points="69.1,298.8 67.8,301.2 70.4,301.2" fill="#fff" stroke="#5a5a5a" stroke-width="0.55"/><polygon points="79.8,298.8 78.5,301.2 81.1,301.2" fill="#fff" stroke="#5a5a5a" stroke-width="0.55"/><polygon points="86.2,302.9 84.9,305.3 87.5,305.3" fill="#fff" stroke="#5a5a5a" stroke-width="0.55"/><polygon points="99.4,310.3 98.1,312.7 100.7,312.7" fill="#fff" stroke="#5a5a5a" stroke-width="0.55"/><polygon points="128.2,314 126.9,316.4 129.5,316.4" fill="#fff" stroke="#5a5a5a" stroke-width="0.55"/><polygon points="151.3,313 150,315.4 152.6,315.4" fill="#fff" stroke="#5a5a5a" stroke-width="0.55"/><polyline points="59.6,332.8 62.3,349.9 69.3,363.9 79.8,363.6 86.8,358.9 99.3,353.8 128.2,350.3 151.3,351.4" fill="none" stroke="#1a1a1a" stroke-width="0.7"/><rect x="58.5" y="331.87" width="2.2" height="1.87" fill="#1a1a1a"/><rect x="61.2" y="348.96" width="2.2" height="1.87" fill="#1a1a1a"/><rect x="68.2" y="362.96" width="2.2" height="1.87" fill="#1a1a1a"/><rect x="78.7" y="362.67" width="2.2" height="1.87" fill="#1a1a1a"/><rect x="85.7" y="357.96" width="2.2" height="1.87" fill="#1a1a1a"/><rect x="98.2" y="352.87" width="2.2" height="1.87" fill="#1a1a1a"/><rect x="127.1" y="349.37" width="2.2" height="1.87" fill="#1a1a1a"/><rect x="150.2" y="350.46" width="2.2" height="1.87" fill="#1a1a1a"/><polyline points="59.6,346.4 62.3,345.3 69.3,355.8 79.8,353.1 86.8,347 99.3,340.9 128.2,341 151.3,342.7" fill="none" stroke="#777777" stroke-width="0.75" stroke-dasharray="1.2,1.2"/><polygon points="59.6,345 58.3,347.4 60.9,347.4" fill="#fff" stroke="#5a5a5a" stroke-width="0.55"/><polygon points="62.3,343.9 61,346.3 63.6,346.3" fill="#fff" stroke="#5a5a5a" stroke-width="0.55"/><polygon points="69.3,354.4 68,356.8 70.6,356.8" fill="#fff" stroke="#5a5a5a" stroke-width="0.55"/><polygon points="79.8,351.7 78.5,354.1 81.1,354.1" fill="#fff" stroke="#5a5a5a" stroke-width="0.55"/><polygon points="86.8,345.6 85.5,348 88.1,348" fill="#fff" stroke="#5a5a5a" stroke-width="0.55"/><polygon points="99.3,339.5 98,341.9 100.6,341.9" fill="#fff" stroke="#5a5a5a" stroke-width="0.55"/><polygon points="128.2,339.6 126.9,342 129.5,342" fill="#fff" stroke="#5a5a5a" stroke-width="0.55"/><polygon points="151.3,341.3 150,343.7 152.6,343.7" fill="#fff" stroke="#5a5a5a" stroke-width="0.55"/><polyline points="59.6,356.9 62.3,349 69.3,364.5 79.8,364.5 86.8,361 99.3,358.7 128.2,354.7 151.3,356.9" fill="none" stroke="#1a1a1a" stroke-width="0.7" stroke-dasharray="1.2,1.2"/><polygon points="59.6,355.5 58.3,357.9 60.9,357.9" fill="#1a1a1a"/><polygon points="62.3,347.6 61,350 63.6,350" fill="#1a1a1a"/><polygon points="69.3,363.1 68,365.5 70.6,365.5" fill="#1a1a1a"/><polygon points="79.8,363.1 78.5,365.5 81.1,365.5" fill="#1a1a1a"/><polygon points="86.8,359.6 85.5,362 88.1,362" fill="#1a1a1a"/><polygon points="99.3,357.3 98,359.7 100.6,359.7" fill="#1a1a1a"/><polygon points="128.2,353.3 126.9,355.7 129.5,355.7" fill="#1a1a1a"/><polygon points="151.3,355.5 150,357.9 152.6,357.9" fill="#1a1a1a"/><polyline points="59.6,363.6 62.3,362.2 69.3,367.4 79.8,366.8 86.8,364.5 99.3,361.9 128.2,359.1 151.3,360.2" fill="none" stroke="#777777" stroke-width="0.75"/><rect x="58.6" y="362.7" width="2" height="1.8" fill="#fff" stroke="#5a5a5a" stroke-width="0.55"/><rect x="61.3" y="361.3" width="2" height="1.8" fill="#fff" stroke="#5a5a5a" stroke-width="0.55"/><rect x="68.3" y="366.5" width="2" height="1.8" fill="#fff" stroke="#5a5a5a" stroke-width="0.55"/><rect x="78.8" y="365.9" width="2" height="1.8" fill="#fff" stroke="#5a5a5a" stroke-width="0.55"/><rect x="85.8" y="363.6" width="2" height="1.8" fill="#fff" stroke="#5a5a5a" stroke-width="0.55"/><rect x="98.3" y="361" width="2" height="1.8" fill="#fff" stroke="#5a5a5a" stroke-width="0.55"/><rect x="127.2" y="358.2" width="2" height="1.8" fill="#fff" stroke="#5a5a5a" stroke-width="0.55"/><rect x="150.3" y="359.3" width="2" height="1.8" fill="#fff" stroke="#5a5a5a" stroke-width="0.55"/><rect x="29.6" y="293.06" width="2.2" height="1.87" fill="#1a1a1a"/><rect x="29.7" y="335.8" width="2" height="1.8" fill="#fff" stroke="#5a5a5a" stroke-width="0.55"/><rect x="29.7" y="337.8" width="2" height="1.8" fill="#fff" stroke="#5a5a5a" stroke-width="0.55"/><rect x="29.6" y="346.26" width="2.2" height="1.87" fill="#1a1a1a"/><rect x="29.7" y="350.2" width="2" height="1.8" fill="#fff" stroke="#5a5a5a" stroke-width="0.55"/><rect x="29.7" y="352.5" width="2" height="1.8" fill="#fff" stroke="#5a5a5a" stroke-width="0.55"/><rect x="45.2" y="296.96" width="2.2" height="1.87" fill="#1a1a1a"/><rect x="45.3" y="333.1" width="2" height="1.8" fill="#fff" stroke="#5a5a5a" stroke-width="0.55"/><rect x="45.2" y="341.06" width="2.2" height="1.87" fill="#1a1a1a"/><rect x="45.3" y="352.5" width="2" height="1.8" fill="#fff" stroke="#5a5a5a" stroke-width="0.55"/><polygon points="46.3,358.8 45,361.2 47.6,361.2" fill="#1a1a1a"/><rect x="45.3" y="363.9" width="2" height="1.8" fill="#fff" stroke="#5a5a5a" stroke-width="0.55"/></g>
<g><rect x="201.3" y="291.4" width="140.5" height="79.3" fill="none" stroke="#7a7a7a" stroke-width="1.3"/><line x1="232.4" y1="291.4" x2="232.4" y2="370.7" stroke="#7a7a7a" stroke-width="1.1"/><line x1="199.7" y1="370.7" x2="201.3" y2="370.7" stroke="#7a7a7a" stroke-width="0.5"/><line x1="199.7" y1="354.84" x2="201.3" y2="354.84" stroke="#7a7a7a" stroke-width="0.5"/><line x1="199.7" y1="338.98" x2="201.3" y2="338.98" stroke="#7a7a7a" stroke-width="0.5"/><line x1="199.7" y1="323.12" x2="201.3" y2="323.12" stroke="#7a7a7a" stroke-width="0.5"/><line x1="199.7" y1="307.26" x2="201.3" y2="307.26" stroke="#7a7a7a" stroke-width="0.5"/><line x1="199.7" y1="291.4" x2="201.3" y2="291.4" stroke="#7a7a7a" stroke-width="0.5"/><polyline points="240.3,293.3 248.7,293.3 263.1,293.3 279.5,294.3 302,297 319.8,301.5" fill="none" stroke="#1a1a1a" stroke-width="0.7"/><circle cx="240.3" cy="293.3" r="1.1" fill="#1a1a1a"/><circle cx="248.7" cy="293.3" r="1.1" fill="#1a1a1a"/><circle cx="263.1" cy="293.3" r="1.1" fill="#1a1a1a"/><circle cx="279.5" cy="294.3" r="1.1" fill="#1a1a1a"/><circle cx="302" cy="297" r="1.1" fill="#1a1a1a"/><circle cx="319.8" cy="301.5" r="1.1" fill="#1a1a1a"/><polyline points="240.3,314.1 248.3,322.5 263.1,317.5 279.5,320.7 302,324.1 319.8,326.7" fill="none" stroke="#777777" stroke-width="0.75"/><polygon points="240.3,312.7 239,315.1 241.6,315.1" fill="#fff" stroke="#5a5a5a" stroke-width="0.55"/><polygon points="248.3,321.1 247,323.5 249.6,323.5" fill="#fff" stroke="#5a5a5a" stroke-width="0.55"/><polygon points="263.1,316.1 261.8,318.5 264.4,318.5" fill="#fff" stroke="#5a5a5a" stroke-width="0.55"/><polygon points="279.5,319.3 278.2,321.7 280.8,321.7" fill="#fff" stroke="#5a5a5a" stroke-width="0.55"/><polygon points="302,322.7 300.7,325.1 303.3,325.1" fill="#fff" stroke="#5a5a5a" stroke-width="0.55"/><polygon points="319.8,325.3 318.5,327.7 321.1,327.7" fill="#fff" stroke="#5a5a5a" stroke-width="0.55"/><polyline points="240.3,351.1 248.3,352.2 263.1,353.4 279.5,353.4 302,350.4 319.8,347.2" fill="none" stroke="#1a1a1a" stroke-width="0.7"/><rect x="239.2" y="350.17" width="2.2" height="1.87" fill="#1a1a1a"/><rect x="247.2" y="351.26" width="2.2" height="1.87" fill="#1a1a1a"/><rect x="262" y="352.46" width="2.2" height="1.87" fill="#1a1a1a"/><rect x="278.4" y="352.46" width="2.2" height="1.87" fill="#1a1a1a"/><rect x="300.9" y="349.46" width="2.2" height="1.87" fill="#1a1a1a"/><rect x="318.7" y="346.26" width="2.2" height="1.87" fill="#1a1a1a"/><polyline points="240.3,354.1 248.3,354 263.1,354 279.5,354 302,351.1 319.8,347.7" fill="none" stroke="#1a1a1a" stroke-width="0.7" stroke-dasharray="1.2,1.2"/><polygon points="240.3,352.7 239,355.1 241.6,355.1" fill="#1a1a1a"/><polygon points="248.3,352.6 247,355 249.6,355" fill="#1a1a1a"/><polygon points="263.1,352.6 261.8,355 264.4,355" fill="#1a1a1a"/><polygon points="279.5,352.6 278.2,355 280.8,355" fill="#1a1a1a"/><polygon points="302,349.7 300.7,352.1 303.3,352.1" fill="#1a1a1a"/><polygon points="319.8,346.3 318.5,348.7 321.1,348.7" fill="#1a1a1a"/><polyline points="240.3,360.2 248.3,361.4 263.1,363.2 279.5,363.2 302,361.8 319.8,358.6" fill="none" stroke="#777777" stroke-width="0.75" stroke-dasharray="1.2,1.2"/><polygon points="240.3,358.8 239,361.2 241.6,361.2" fill="#fff" stroke="#5a5a5a" stroke-width="0.55"/><polygon points="248.3,360 247,362.4 249.6,362.4" fill="#fff" stroke="#5a5a5a" stroke-width="0.55"/><polygon points="263.1,361.8 261.8,364.2 264.4,364.2" fill="#fff" stroke="#5a5a5a" stroke-width="0.55"/><polygon points="279.5,361.8 278.2,364.2 280.8,364.2" fill="#fff" stroke="#5a5a5a" stroke-width="0.55"/><polygon points="302,360.4 300.7,362.8 303.3,362.8" fill="#fff" stroke="#5a5a5a" stroke-width="0.55"/><polygon points="319.8,357.2 318.5,359.6 321.1,359.6" fill="#fff" stroke="#5a5a5a" stroke-width="0.55"/><polyline points="240.3,367.1 248.3,367.1 263.1,367.1 279.5,366 302,364.8 319.8,363.7" fill="none" stroke="#777777" stroke-width="0.75"/><rect x="239.3" y="366.2" width="2" height="1.8" fill="#fff" stroke="#5a5a5a" stroke-width="0.55"/><rect x="247.3" y="366.2" width="2" height="1.8" fill="#fff" stroke="#5a5a5a" stroke-width="0.55"/><rect x="262.1" y="366.2" width="2" height="1.8" fill="#fff" stroke="#5a5a5a" stroke-width="0.55"/><rect x="278.5" y="365.1" width="2" height="1.8" fill="#fff" stroke="#5a5a5a" stroke-width="0.55"/><rect x="301" y="363.9" width="2" height="1.8" fill="#fff" stroke="#5a5a5a" stroke-width="0.55"/><rect x="318.8" y="362.8" width="2" height="1.8" fill="#fff" stroke="#5a5a5a" stroke-width="0.55"/><rect x="207.6" y="298.06" width="2.2" height="1.87" fill="#1a1a1a"/><rect x="207.6" y="349.67" width="2.2" height="1.87" fill="#1a1a1a"/><polygon points="208.7,353.8 207.4,356.2 210,356.2" fill="#1a1a1a"/><rect x="207.7" y="360.9" width="2" height="1.8" fill="#fff" stroke="#5a5a5a" stroke-width="0.55"/><rect x="207.7" y="363.9" width="2" height="1.8" fill="#fff" stroke="#5a5a5a" stroke-width="0.55"/><rect x="223.2" y="307.46" width="2.2" height="1.87" fill="#1a1a1a"/><rect x="223.3" y="337.2" width="2" height="1.8" fill="#fff" stroke="#5a5a5a" stroke-width="0.55"/><rect x="223.3" y="340.6" width="2" height="1.8" fill="#fff" stroke="#5a5a5a" stroke-width="0.55"/><rect x="223.2" y="344.46" width="2.2" height="1.87" fill="#1a1a1a"/><rect x="223.2" y="346.76" width="2.2" height="1.87" fill="#1a1a1a"/><rect x="223.3" y="352.9" width="2" height="1.8" fill="#fff" stroke="#5a5a5a" stroke-width="0.55"/></g>
</g>
<g filter="url(#tx)">
<g><text transform="translate(1.9,11) scale(1.05,1)" class="L">A</text><text x="129.8" y="16.2" class="T" textLength="29" lengthAdjust="spacingAndGlyphs">SPN 1899</text><text x="18.7" y="100.9" class="tk" text-anchor="end">0</text><text x="18.7" y="85.12" class="tk" text-anchor="end">20</text><text x="18.7" y="69.34" class="tk" text-anchor="end">40</text><text x="18.7" y="53.56" class="tk" text-anchor="end">60</text><text x="18.7" y="37.78" class="tk" text-anchor="end">80</text><text x="18.7" y="22" class="tk" text-anchor="end">100</text><text x="53.55" y="106.1" class="tk" text-anchor="middle">0</text><text x="68.96" y="106.1" class="tk" text-anchor="middle">60</text><text x="84.38" y="106.1" class="tk" text-anchor="middle">120</text><text x="99.79" y="106.1" class="tk" text-anchor="middle">180</text><text x="115.21" y="106.1" class="tk" text-anchor="middle">240</text><text x="130.62" y="106.1" class="tk" text-anchor="middle">300</text><text x="146.04" y="106.1" class="tk" text-anchor="middle">360</text><text x="161.45" y="106.1" class="tk" text-anchor="middle">420</text><text transform="translate(32.3,115.2) rotate(-90)" class="dr" textLength="11.2" lengthAdjust="spacingAndGlyphs">donor</text><text transform="translate(47.5,114.5) rotate(-90)" class="dr" textLength="10.5" lengthAdjust="spacingAndGlyphs">recip.</text><text x="24.2" y="123.1" class="ax" textLength="38.5" lengthAdjust="spacingAndGlyphs">Pretransplantation</text><text x="86.8" y="114.6" class="ax" textLength="56.5" lengthAdjust="spacingAndGlyphs">After transplantation (days)</text><text transform="translate(5.5,69) rotate(-90)" class="yl" text-anchor="middle" textLength="65" lengthAdjust="spacingAndGlyphs">Frequency of KIR<tspan dy="-1.2" font-size="3">+</tspan><tspan dy="1.2"> NK cells (%)</tspan></text></g>
<g><text transform="translate(178,10.8) scale(1.0,1)" class="L">B</text><text x="307.1" y="16.2" class="T" textLength="29" lengthAdjust="spacingAndGlyphs">SPN 2017</text><text x="197.2" y="100.8" class="tk" text-anchor="end">0</text><text x="197.2" y="84.96" class="tk" text-anchor="end">20</text><text x="197.2" y="69.12" class="tk" text-anchor="end">40</text><text x="197.2" y="53.28" class="tk" text-anchor="end">60</text><text x="197.2" y="37.44" class="tk" text-anchor="end">80</text><text x="197.2" y="21.6" class="tk" text-anchor="end">100</text><text x="231.55" y="106" class="tk" text-anchor="middle">0</text><text x="247.14" y="106" class="tk" text-anchor="middle">60</text><text x="262.72" y="106" class="tk" text-anchor="middle">120</text><text x="278.31" y="106" class="tk" text-anchor="middle">180</text><text x="293.89" y="106" class="tk" text-anchor="middle">240</text><text x="309.48" y="106" class="tk" text-anchor="middle">300</text><text x="325.06" y="106" class="tk" text-anchor="middle">360</text><text x="340.65" y="106" class="tk" text-anchor="middle">420</text><text transform="translate(209,116.5) rotate(-90)" class="dr" textLength="11.2" lengthAdjust="spacingAndGlyphs">donor</text><text transform="translate(224.3,115.8) rotate(-90)" class="dr" textLength="10.5" lengthAdjust="spacingAndGlyphs">recip.</text><text x="201" y="123.3" class="ax" textLength="38.5" lengthAdjust="spacingAndGlyphs">Pretransplantation</text><text x="263.1" y="116.1" class="ax" textLength="56.5" lengthAdjust="spacingAndGlyphs">After transplantation (days)</text><text transform="translate(183.3,61.35) rotate(-90)" class="yl" text-anchor="middle" textLength="65" lengthAdjust="spacingAndGlyphs">Frequency of KIR<tspan dy="-1.2" font-size="3">+</tspan><tspan dy="1.2"> NK cells (%)</tspan></text></g>
<g><text transform="translate(354,10.8) scale(1.0,1)" class="L">C</text><text x="483.7" y="16.1" class="T" textLength="29" lengthAdjust="spacingAndGlyphs">SPN 1991</text><text x="372.2" y="100.2" class="tk" text-anchor="end">0</text><text x="372.2" y="84.36" class="tk" text-anchor="end">20</text><text x="372.2" y="68.52" class="tk" text-anchor="end">40</text><text x="372.2" y="52.68" class="tk" text-anchor="end">60</text><text x="372.2" y="36.84" class="tk" text-anchor="end">80</text><text x="372.2" y="21" class="tk" text-anchor="end">100</text><text x="407.55" y="105.4" class="tk" text-anchor="middle">0</text><text x="422.98" y="105.4" class="tk" text-anchor="middle">60</text><text x="438.41" y="105.4" class="tk" text-anchor="middle">120</text><text x="453.84" y="105.4" class="tk" text-anchor="middle">180</text><text x="469.26" y="105.4" class="tk" text-anchor="middle">240</text><text x="484.69" y="105.4" class="tk" text-anchor="middle">300</text><text x="500.12" y="105.4" class="tk" text-anchor="middle">360</text><text x="515.55" y="105.4" class="tk" text-anchor="middle">420</text><text transform="translate(386,112.8) rotate(-90)" class="dr" textLength="11.2" lengthAdjust="spacingAndGlyphs">donor</text><text transform="translate(401.2,112.5) rotate(-90)" class="dr" textLength="10.5" lengthAdjust="spacingAndGlyphs">recip.</text><text x="377.4" y="121.9" class="ax" textLength="38.5" lengthAdjust="spacingAndGlyphs">Pretransplantation</text><text x="440.3" y="112.5" class="ax" textLength="56.5" lengthAdjust="spacingAndGlyphs">After transplantation (days)</text><text transform="translate(360.1,59.5) rotate(-90)" class="yl" text-anchor="middle" textLength="65" lengthAdjust="spacingAndGlyphs">Frequency of KIR<tspan dy="-1.2" font-size="3">+</tspan><tspan dy="1.2"> NK cells (%)</tspan></text></g>
<g><text transform="translate(0.3,147.5) scale(1.0,1)" class="L">D</text><text x="128.1" y="151.8" class="T" textLength="29" lengthAdjust="spacingAndGlyphs">SPN 2025</text><text x="18.7" y="235.4" class="tk" text-anchor="end">0</text><text x="18.7" y="219.72" class="tk" text-anchor="end">20</text><text x="18.7" y="204.04" class="tk" text-anchor="end">40</text><text x="18.7" y="188.36" class="tk" text-anchor="end">60</text><text x="18.7" y="172.68" class="tk" text-anchor="end">80</text><text x="18.7" y="157" class="tk" text-anchor="end">100</text><text x="53.65" y="240.6" class="tk" text-anchor="middle">0</text><text x="69.05" y="240.6" class="tk" text-anchor="middle">60</text><text x="84.45" y="240.6" class="tk" text-anchor="middle">120</text><text x="99.85" y="240.6" class="tk" text-anchor="middle">180</text><text x="115.25" y="240.6" class="tk" text-anchor="middle">240</text><text x="130.65" y="240.6" class="tk" text-anchor="middle">300</text><text x="146.05" y="240.6" class="tk" text-anchor="middle">360</text><text x="161.45" y="240.6" class="tk" text-anchor="middle">420</text><text transform="translate(30.5,247.3) rotate(-90)" class="dr" textLength="11.2" lengthAdjust="spacingAndGlyphs">donor</text><text transform="translate(45.5,247.3) rotate(-90)" class="dr" textLength="10.5" lengthAdjust="spacingAndGlyphs">recip.</text><text x="22.2" y="255.2" class="ax" textLength="38.5" lengthAdjust="spacingAndGlyphs">Pretransplantation</text><text x="84.7" y="247.3" class="ax" textLength="56.5" lengthAdjust="spacingAndGlyphs">After transplantation (days)</text><text transform="translate(4.8,201.7) rotate(-90)" class="yl" text-anchor="middle" textLength="65" lengthAdjust="spacingAndGlyphs">Frequency of KIR<tspan dy="-1.2" font-size="3">+</tspan><tspan dy="1.2"> NK cells (%)</tspan></text></g>
<g><text transform="translate(177.5,147.1) scale(1.0,1)" class="L">E</text><text x="307.6" y="152.3" class="T" textLength="29" lengthAdjust="spacingAndGlyphs">SPN 2060</text><text x="197.2" y="235.8" class="tk" text-anchor="end">0</text><text x="197.2" y="220.14" class="tk" text-anchor="end">20</text><text x="197.2" y="204.48" class="tk" text-anchor="end">40</text><text x="197.2" y="188.82" class="tk" text-anchor="end">60</text><text x="197.2" y="173.16" class="tk" text-anchor="end">80</text><text x="197.2" y="157.5" class="tk" text-anchor="end">100</text><text x="231.65" y="241" class="tk" text-anchor="middle">0</text><text x="246.94" y="241" class="tk" text-anchor="middle">60</text><text x="262.22" y="241" class="tk" text-anchor="middle">120</text><text x="277.51" y="241" class="tk" text-anchor="middle">180</text><text x="292.79" y="241" class="tk" text-anchor="middle">240</text><text x="308.08" y="241" class="tk" text-anchor="middle">300</text><text x="323.36" y="241" class="tk" text-anchor="middle">360</text><text x="338.65" y="241" class="tk" text-anchor="middle">420</text><text transform="translate(210.8,248.3) rotate(-90)" class="dr" textLength="11.2" lengthAdjust="spacingAndGlyphs">donor</text><text transform="translate(225.8,247.5) rotate(-90)" class="dr" textLength="10.5" lengthAdjust="spacingAndGlyphs">recip.</text><text x="202.2" y="255.2" class="ax" textLength="38.5" lengthAdjust="spacingAndGlyphs">Pretransplantation</text><text x="265.1" y="247.5" class="ax" textLength="56.5" lengthAdjust="spacingAndGlyphs">After transplantation (days)</text><text transform="translate(183.6,195) rotate(-90)" class="yl" text-anchor="middle" textLength="65" lengthAdjust="spacingAndGlyphs">Frequency of KIR<tspan dy="-1.2" font-size="3">+</tspan><tspan dy="1.2"> NK cells (%)</tspan></text></g>
<g><text transform="translate(357.6,146.7) scale(1.0,1)" class="L">F</text><text x="482.2" y="152.1" class="T" textLength="29" lengthAdjust="spacingAndGlyphs">SPN 2036</text><text x="373.1" y="235.3" class="tk" text-anchor="end">0</text><text x="373.1" y="219.64" class="tk" text-anchor="end">20</text><text x="373.1" y="203.98" class="tk" text-anchor="end">40</text><text x="373.1" y="188.32" class="tk" text-anchor="end">60</text><text x="373.1" y="172.66" class="tk" text-anchor="end">80</text><text x="373.1" y="157" class="tk" text-anchor="end">100</text><text x="407.65" y="240.5" class="tk" text-anchor="middle">0</text><text x="423.06" y="240.5" class="tk" text-anchor="middle">60</text><text x="438.48" y="240.5" class="tk" text-anchor="middle">120</text><text x="453.89" y="240.5" class="tk" text-anchor="middle">180</text><text x="469.31" y="240.5" class="tk" text-anchor="middle">240</text><text x="484.72" y="240.5" class="tk" text-anchor="middle">300</text><text x="500.14" y="240.5" class="tk" text-anchor="middle">360</text><text x="515.55" y="240.5" class="tk" text-anchor="middle">420</text><text transform="translate(384.6,248.5) rotate(-90)" class="dr" textLength="11.2" lengthAdjust="spacingAndGlyphs">donor</text><text transform="translate(400,247.5) rotate(-90)" class="dr" textLength="10.5" lengthAdjust="spacingAndGlyphs">recip.</text><text x="377" y="255.9" class="ax" textLength="38.5" lengthAdjust="spacingAndGlyphs">Pretransplantation</text><text x="438.5" y="247.3" class="ax" textLength="56.5" lengthAdjust="spacingAndGlyphs">After transplantation (days)</text><text transform="translate(360.4,201.5) rotate(-90)" class="yl" text-anchor="middle" textLength="65" lengthAdjust="spacingAndGlyphs">Frequency of KIR<tspan dy="-1.2" font-size="3">+</tspan><tspan dy="1.2"> NK cells (%)</tspan></text></g>
<g><text transform="translate(0.9,280) scale(1.07,1)" class="L">G</text><text x="130.2" y="285.5" class="T" textLength="29" lengthAdjust="spacingAndGlyphs">SPN 2067</text><text x="19.6" y="371.7" class="tk" text-anchor="end">0</text><text x="19.6" y="355.98" class="tk" text-anchor="end">20</text><text x="19.6" y="340.26" class="tk" text-anchor="end">40</text><text x="19.6" y="324.54" class="tk" text-anchor="end">60</text><text x="19.6" y="308.82" class="tk" text-anchor="end">80</text><text x="19.6" y="293.1" class="tk" text-anchor="end">100</text><text x="54.35" y="376.9" class="tk" text-anchor="middle">0</text><text x="69.71" y="376.9" class="tk" text-anchor="middle">60</text><text x="85.06" y="376.9" class="tk" text-anchor="middle">120</text><text x="100.42" y="376.9" class="tk" text-anchor="middle">180</text><text x="115.78" y="376.9" class="tk" text-anchor="middle">240</text><text x="131.14" y="376.9" class="tk" text-anchor="middle">300</text><text x="146.49" y="376.9" class="tk" text-anchor="middle">360</text><text x="161.85" y="376.9" class="tk" text-anchor="middle">420</text><text transform="translate(33,384.9) rotate(-90)" class="dr" textLength="11.2" lengthAdjust="spacingAndGlyphs">donor</text><text transform="translate(48,384.6) rotate(-90)" class="dr" textLength="10.5" lengthAdjust="spacingAndGlyphs">recip.</text><text x="24.8" y="392.5" class="ax" textLength="38.5" lengthAdjust="spacingAndGlyphs">Pretransplantation</text><text x="88" y="385" class="ax" textLength="56.5" lengthAdjust="spacingAndGlyphs">After transplantation (days)</text><text transform="translate(6,333.2) rotate(-90)" class="yl" text-anchor="middle" textLength="65" lengthAdjust="spacingAndGlyphs">Frequency of KIR<tspan dy="-1.2" font-size="3">+</tspan><tspan dy="1.2"> NK cells (%)</tspan></text></g>
<g><text transform="translate(179.3,280) scale(1.0,1)" class="L">H</text><text x="304.1" y="285.7" class="T" textLength="29" lengthAdjust="spacingAndGlyphs">SPN 2138</text><text x="197.9" y="371.9" class="tk" text-anchor="end">0</text><text x="197.9" y="356.04" class="tk" text-anchor="end">20</text><text x="197.9" y="340.18" class="tk" text-anchor="end">40</text><text x="197.9" y="324.32" class="tk" text-anchor="end">60</text><text x="197.9" y="308.46" class="tk" text-anchor="end">80</text><text x="197.9" y="292.6" class="tk" text-anchor="end">100</text><text x="232.45" y="377.1" class="tk" text-anchor="middle">0</text><text x="247.94" y="377.1" class="tk" text-anchor="middle">60</text><text x="263.42" y="377.1" class="tk" text-anchor="middle">120</text><text x="278.91" y="377.1" class="tk" text-anchor="middle">180</text><text x="294.39" y="377.1" class="tk" text-anchor="middle">240</text><text x="309.88" y="377.1" class="tk" text-anchor="middle">300</text><text x="325.36" y="377.1" class="tk" text-anchor="middle">360</text><text x="340.85" y="377.1" class="tk" text-anchor="middle">420</text><text transform="translate(209.5,384.6) rotate(-90)" class="dr" textLength="11.2" lengthAdjust="spacingAndGlyphs">donor</text><text transform="translate(224.7,384.4) rotate(-90)" class="dr" textLength="10.5" lengthAdjust="spacingAndGlyphs">recip.</text><text x="201.6" y="391.9" class="ax" textLength="38.5" lengthAdjust="spacingAndGlyphs">Pretransplantation</text><text x="263.7" y="384.5" class="ax" textLength="56.5" lengthAdjust="spacingAndGlyphs">After transplantation (days)</text><text transform="translate(183.5,338) rotate(-90)" class="yl" text-anchor="middle" textLength="65" lengthAdjust="spacingAndGlyphs">Frequency of KIR<tspan dy="-1.2" font-size="3">+</tspan><tspan dy="1.2"> NK cells (%)</tspan></text></g>
</g>
</svg>
</body></html>
